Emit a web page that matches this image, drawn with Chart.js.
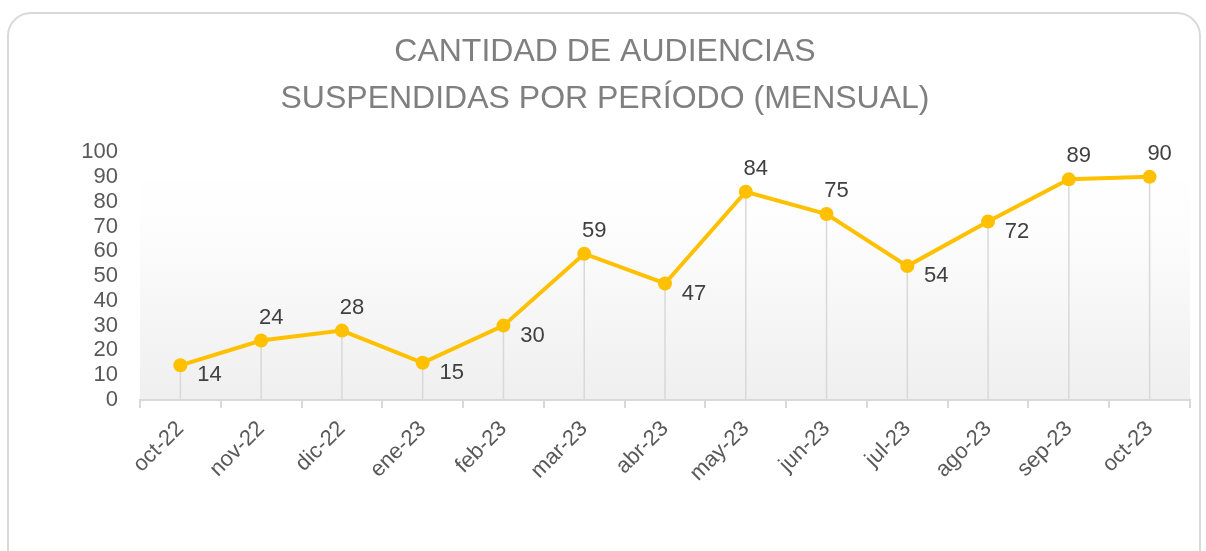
<!DOCTYPE html>
<html>
<head>
<meta charset="utf-8">
<script src="https://cdn.jsdelivr.net/npm/chart.js@4"></script>
<style>
    body { margin: 0; background: #fff; }
    #card {
        position: absolute; left: 7px; top: 12px; width: 1190px; height: 560px;
        border: 2px solid #d9d9d9; border-radius: 24px;
    }
    #wrap { position: absolute; left: 0; top: 0; width: 1206px; height: 551px; }
</style>
</head>
<body>
<div id="card"></div>
<div id="wrap"><canvas id="audienciasChart"></canvas></div>
<script>
var categories = ['oct-22', 'nov-22', 'dic-22', 'ene-23', 'feb-23', 'mar-23', 'abr-23', 'may-23', 'jun-23', 'jul-23', 'ago-23', 'sep-23', 'oct-23'];
var suspendidas = [14, 24, 28, 15, 30, 59, 47, 84, 75, 54, 72, 89, 90];
var labelSide = ['right', 'above', 'above', 'right', 'right', 'above', 'right', 'above', 'above', 'right', 'right', 'above', 'above'];
var yTicks = [0, 10, 20, 30, 40, 50, 60, 70, 80, 90, 100];

var fontFamily = '"Liberation Sans", Arial, sans-serif';

// fondo degradado del area de trazado
var plotBackground = {
    id: 'plotBackground',
    beforeDraw: function (chart) {
        var a = chart.chartArea;
        var ctx = chart.ctx;
        var g = ctx.createLinearGradient(0, a.top, 0, a.bottom);
        g.addColorStop(0, '#ffffff');
        g.addColorStop(0.3, '#fdfdfd');
        g.addColorStop(1, '#efefef');
        ctx.save();
        ctx.fillStyle = g;
        ctx.fillRect(a.left, a.top + 30, a.right - a.left, a.bottom - a.top - 30);
        ctx.restore();
    }
};

// lineas de caida desde cada punto hasta el eje
var dropLines = {
    id: 'dropLines',
    beforeDatasetsDraw: function (chart) {
        var ctx = chart.ctx;
        var meta = chart.getDatasetMeta(0);
        ctx.save();
        ctx.strokeStyle = '#d9d9d9';
        ctx.lineWidth = 1.5;
        meta.data.forEach(function (pt) {
            ctx.beginPath();
            ctx.moveTo(pt.x, pt.y);
            ctx.lineTo(pt.x, chart.chartArea.bottom);
            ctx.stroke();
        });
        ctx.restore();
    }
};

// etiquetas de datos
var dataLabels = {
    id: 'dataLabels',
    afterDatasetsDraw: function (chart) {
        var ctx = chart.ctx;
        var meta = chart.getDatasetMeta(0);
        ctx.save();
        ctx.font = '22px ' + fontFamily;
        ctx.fillStyle = '#404040';
        ctx.textAlign = 'center';
        ctx.textBaseline = 'middle';
        meta.data.forEach(function (pt, i) {
            var txt = String(suspendidas[i]);
            if (labelSide[i] === 'above') {
                ctx.fillText(txt, pt.x + 10, pt.y - 23);
            } else {
                ctx.fillText(txt, pt.x + 29, pt.y + 10);
            }
        });
        ctx.restore();
    }
};

var ctx = document.getElementById('audienciasChart').getContext('2d');
new Chart(ctx, {
    type: 'line',
    data: {
        labels: categories,
        datasets: [{
            data: suspendidas,
            borderColor: '#ffc000',
            backgroundColor: '#ffc000',
            borderWidth: 4,
            pointRadius: 7,
            pointHoverRadius: 7,
            pointBackgroundColor: '#ffc000',
            pointBorderWidth: 0,
            tension: 0,
            fill: false
        }]
    },
    options: {
        responsive: true,
        maintainAspectRatio: false,
        animation: false,
        layout: {
            padding: {left: 20, right: 16, top: 12, bottom: 10}
        },
        plugins: {
            legend: {display: false},
            tooltip: {enabled: false},
            title: {
                display: true,
                text: ['CANTIDAD DE AUDIENCIAS', 'SUSPENDIDAS POR PERÍODO (MENSUAL)'],
                color: '#7f7f7f',
                font: {family: fontFamily, size: 32, weight: 'normal', lineHeight: 1.47},
                padding: {top: 17, bottom: 29}
            }
        },
        scales: {
            x: {
                offset: true,
                grid: {
                    offset: true,
                    drawOnChartArea: false,
                    drawTicks: true,
                    tickLength: 8,
                    color: '#d9d9d9',
                    lineWidth: 2
                },
                border: {display: true, color: '#d9d9d9', width: 2},
                ticks: {
                    color: '#595959',
                    font: {family: fontFamily, size: 22},
                    minRotation: 45,
                    maxRotation: 45,
                    autoSkip: false,
                    padding: 8
                },
                afterFit: function (scale) { scale.height = 141; }
            },
            y: {
                min: 0,
                max: 100,
                afterBuildTicks: function (scale) {
                    scale.ticks = yTicks.map(function (v) { return {value: v}; });
                },
                grid: {display: false},
                border: {display: false},
                ticks: {
                    color: '#595959',
                    font: {family: fontFamily, size: 22},
                    autoSkip: false,
                    padding: 14
                },
                afterFit: function (scale) { scale.width = 120; }
            }
        }
    },
    plugins: [plotBackground, dropLines, dataLabels]
});
</script>
</body>
</html>
